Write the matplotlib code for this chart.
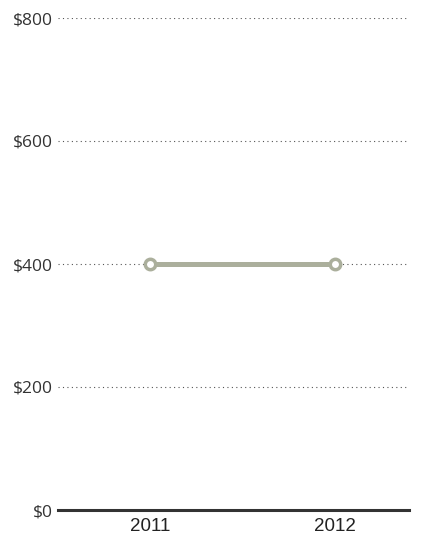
import matplotlib
matplotlib.use("Agg")
import matplotlib.pyplot as plt

# data
years = [2011, 2012]
values = [400, 400]
y_ticks = [0, 200, 400, 600, 800]
y_labels = ["$0", "$200", "$400", "$600", "$800"]

fig = plt.figure(figsize=(4.24, 5.40), dpi=100)
ax = fig.add_axes([58 / 424, 1 - 510 / 540, 351 / 424, 492 / 540])

ax.set_xlim(2010.5, 2012.4)
ax.set_ylim(0, 800)

# gridlines (dotted)
for t in y_ticks[1:]:
    ax.axhline(t, color="#555555", linestyle=(0, (1, 3)), linewidth=0.8, zorder=1)

# baseline
ax.axhline(0, color="#333333", linewidth=2.2, zorder=2, clip_on=False)

ax.plot(years, values, color="#abaf9c", linewidth=3.6, solid_capstyle="butt",
        marker="o", markersize=7.5, markerfacecolor="white",
        markeredgecolor="#abaf9c", markeredgewidth=2.5, zorder=3)

for s in ax.spines.values():
    s.set_visible(False)

ax.set_yticks(y_ticks)
ax.set_yticklabels(y_labels, fontfamily="Open Sans", fontsize=12.5, color="#333333")
ax.set_xticks(years)
ax.set_xticklabels([str(y) for y in years], fontfamily="Liberation Sans",
                   fontsize=13.5, color="#222222")
ax.tick_params(axis="both", length=0)
ax.tick_params(axis="y", pad=4)
ax.tick_params(axis="x", pad=6)

fig.savefig("out.png", dpi=100)
